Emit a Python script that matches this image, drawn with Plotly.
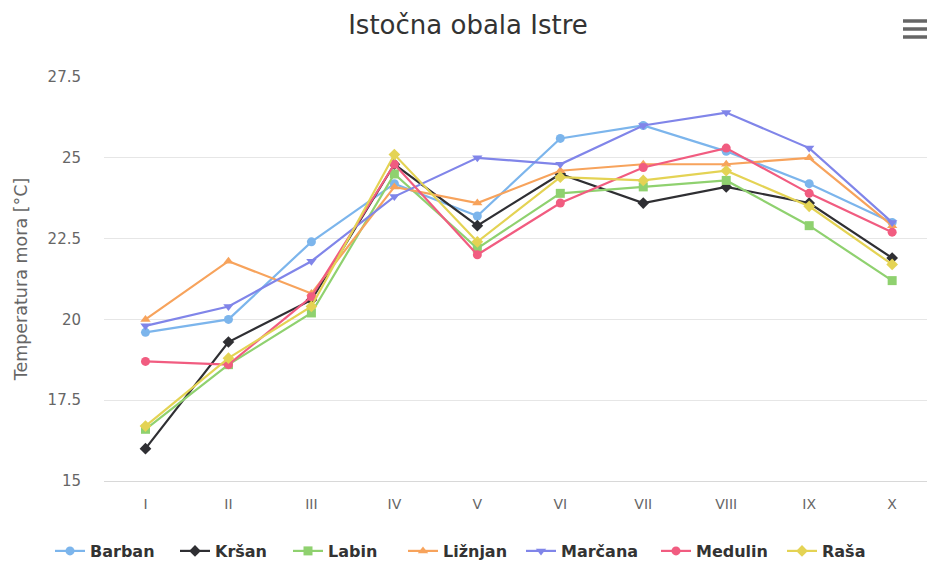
import plotly.graph_objects as go

months = ["I", "II", "III", "IV", "V", "VI", "VII", "VIII", "IX", "X"]

barban  = [19.6, 20.0, 22.4, 24.2, 23.2, 25.6, 26.0, 25.2, 24.2, 23.0]
krsan   = [16.0, 19.3, 20.6, 24.8, 22.9, 24.5, 23.6, 24.1, 23.6, 21.9]
labin   = [16.6, 18.6, 20.2, 24.5, 22.2, 23.9, 24.1, 24.3, 22.9, 21.2]
liznjan = [20.0, 21.8, 20.8, 24.1, 23.6, 24.6, 24.8, 24.8, 25.0, 22.9]
marcana = [19.8, 20.4, 21.8, 23.8, 25.0, 24.8, 26.0, 26.4, 25.3, 23.0]
medulin = [18.7, 18.6, 20.7, 24.8, 22.0, 23.6, 24.7, 25.3, 23.9, 22.7]
rasa    = [16.7, 18.8, 20.4, 25.1, 22.4, 24.4, 24.3, 24.6, 23.5, 21.7]

series_names = ["Barban", "Kršan", "Labin", "Ližnjan", "Marčana", "Medulin", "Raša"]
series_vals = [barban, krsan, labin, liznjan, marcana, medulin, rasa]

# styles
colors = ["#7cb5ec", "#2f2f33", "#8fd16f", "#f7a35c", "#8085e9", "#f15c80", "#e4d354"]
symbols = ["circle", "diamond", "square", "triangle-up", "triangle-down", "circle", "diamond"]
legend_widths = [80, 68, 70, 73, 90, 81, 50]

fig = go.Figure()
for name, vals, c, s, lw in zip(series_names, series_vals, colors, symbols, legend_widths):
    fig.add_trace(go.Scatter(
        x=months, y=vals, name=name, mode="lines+markers",
        line=dict(color=c, width=2.2),
        marker=dict(symbol=s, size=9, color=c),
        legendwidth=lw,
    ))

L, T, B = 104, 77, 84
W, H = 927, 565
pw, ph = W - L, H - T - B

fig.update_layout(
    width=W, height=H,
    paper_bgcolor="white", plot_bgcolor="white",
    margin=dict(l=L, r=0, t=T, b=B, autoexpand=False),
    font=dict(family="DejaVu Sans, sans-serif", color="#666666"),
    title=dict(text="Istočna obala Istre", x=468 / W, xref="container", xanchor="center",
               y=1 - 25 / H, yanchor="middle",
               font=dict(size=26, color="#333333", family="DejaVu Sans, sans-serif")),
    xaxis=dict(type="category", range=[-0.5, 9.42], showgrid=False,
               showline=True, linecolor="#d8d8d8", linewidth=1,
               ticks="", ticklabelstandoff=10,
               tickfont=dict(size=14, color="#666666"), fixedrange=True),
    yaxis=dict(range=[15, 27.5], tickvals=[15, 17.5, 20, 22.5, 25, 27.5],
               ticktext=["15", "17.5", "20", "22.5", "25", "27.5"],
               showgrid=True, gridcolor="#e6e6e6", gridwidth=1, zeroline=False,
               showline=False, ticks="", ticklabelstandoff=22,
               tickfont=dict(size=15, color="#666666"),
               title=dict(text="Temperatura mora [°C]", font=dict(size=17.5, color="#666666"), standoff=15)),
    legend=dict(orientation="h", x=(50 - L) / pw, xanchor="left",
                y=(481 - 551) / ph, yanchor="middle",
                font=dict(size=16, color="#333333", family="DejaVu Sans, sans-serif", weight="bold"),
                itemwidth=30, tracegroupgap=0),
    showlegend=True,
)

for py in (21, 29, 37):
    fig.add_shape(type="line", xref="paper", yref="paper",
                  x0=(903 - L) / pw, x1=(930 - L) / pw,
                  y0=(481 - py) / ph, y1=(481 - py) / ph,
                  line=dict(color="#666666", width=3.5))

fig.write_html("out.html", config={"displayModeBar": False},
               post_script="document.body.style.margin='0';document.body.style.overflow='hidden';")
